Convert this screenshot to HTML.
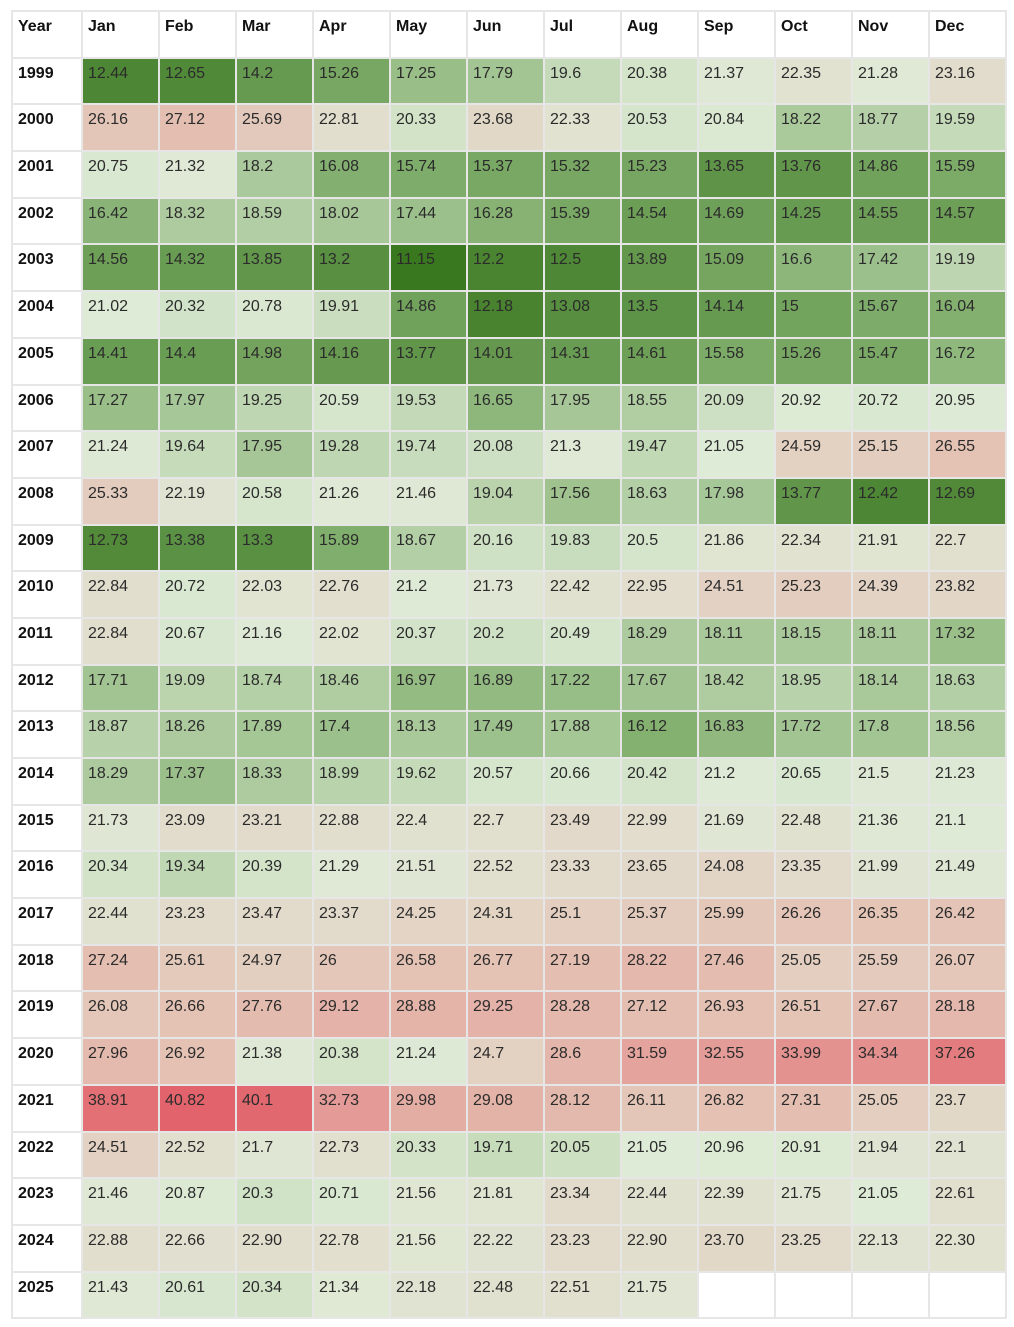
<!DOCTYPE html>
<html><head><meta charset="utf-8">
<style>
body{margin:0;background:#fff;font-family:"Liberation Sans",Arial,sans-serif;}
table{position:absolute;left:11px;top:10px;border-collapse:collapse;table-layout:fixed;border:2px solid #e0e0e0;}
tr{height:46.7px;}
td,th{border:2px solid #e6e6e6;padding:0 0 0 5px;vertical-align:top;font-size:16px;color:#222;text-align:left;}
td{padding-top:6px;font-weight:normal;color:#2b2b2b;}
th{padding-top:6px;font-weight:bold;color:#111;}
col.y{width:70px} col.m{width:77px}
</style></head><body>
<table id="t">
<colgroup><col class="y"><col class="m"><col class="m"><col class="m"><col class="m"><col class="m"><col class="m"><col class="m"><col class="m"><col class="m"><col class="m"><col class="m"><col class="m"></colgroup>
<tbody id="tb"></tbody></table>
<script>
const months=["Jan","Feb","Mar","Apr","May","Jun","Jul","Aug","Sep","Oct","Nov","Dec"];
const years=[1999,2000,2001,2002,2003,2004,2005,2006,2007,2008,2009,2010,2011,2012,2013,2014,2015,2016,2017,2018,2019,2020,2021,2022,2023,2024,2025];
const values=[
["12.44","12.65","14.2","15.26","17.25","17.79","19.6","20.38","21.37","22.35","21.28","23.16"],
["26.16","27.12","25.69","22.81","20.33","23.68","22.33","20.53","20.84","18.22","18.77","19.59"],
["20.75","21.32","18.2","16.08","15.74","15.37","15.32","15.23","13.65","13.76","14.86","15.59"],
["16.42","18.32","18.59","18.02","17.44","16.28","15.39","14.54","14.69","14.25","14.55","14.57"],
["14.56","14.32","13.85","13.2","11.15","12.2","12.5","13.89","15.09","16.6","17.42","19.19"],
["21.02","20.32","20.78","19.91","14.86","12.18","13.08","13.5","14.14","15","15.67","16.04"],
["14.41","14.4","14.98","14.16","13.77","14.01","14.31","14.61","15.58","15.26","15.47","16.72"],
["17.27","17.97","19.25","20.59","19.53","16.65","17.95","18.55","20.09","20.92","20.72","20.95"],
["21.24","19.64","17.95","19.28","19.74","20.08","21.3","19.47","21.05","24.59","25.15","26.55"],
["25.33","22.19","20.58","21.26","21.46","19.04","17.56","18.63","17.98","13.77","12.42","12.69"],
["12.73","13.38","13.3","15.89","18.67","20.16","19.83","20.5","21.86","22.34","21.91","22.7"],
["22.84","20.72","22.03","22.76","21.2","21.73","22.42","22.95","24.51","25.23","24.39","23.82"],
["22.84","20.67","21.16","22.02","20.37","20.2","20.49","18.29","18.11","18.15","18.11","17.32"],
["17.71","19.09","18.74","18.46","16.97","16.89","17.22","17.67","18.42","18.95","18.14","18.63"],
["18.87","18.26","17.89","17.4","18.13","17.49","17.88","16.12","16.83","17.72","17.8","18.56"],
["18.29","17.37","18.33","18.99","19.62","20.57","20.66","20.42","21.2","20.65","21.5","21.23"],
["21.73","23.09","23.21","22.88","22.4","22.7","23.49","22.99","21.69","22.48","21.36","21.1"],
["20.34","19.34","20.39","21.29","21.51","22.52","23.33","23.65","24.08","23.35","21.99","21.49"],
["22.44","23.23","23.47","23.37","24.25","24.31","25.1","25.37","25.99","26.26","26.35","26.42"],
["27.24","25.61","24.97","26","26.58","26.77","27.19","28.22","27.46","25.05","25.59","26.07"],
["26.08","26.66","27.76","29.12","28.88","29.25","28.28","27.12","26.93","26.51","27.67","28.18"],
["27.96","26.92","21.38","20.38","21.24","24.7","28.6","31.59","32.55","33.99","34.34","37.26"],
["38.91","40.82","40.1","32.73","29.98","29.08","28.12","26.11","26.82","27.31","25.05","23.7"],
["24.51","22.52","21.7","22.73","20.33","19.71","20.05","21.05","20.96","20.91","21.94","22.1"],
["21.46","20.87","20.3","20.71","21.56","21.81","23.34","22.44","22.39","21.75","21.05","22.61"],
["22.88","22.66","22.90","22.78","21.56","22.22","23.23","22.90","23.70","23.25","22.13","22.30"],
["21.43","20.61","20.34","21.34","22.18","22.48","22.51","21.75","","","",""]
];
const stopVals=[11,16,21,23,27,32,41];
const stopCols=[[56,118,29],[130,175,110],[222,235,214],[226,221,205],[228,192,178],[228,160,155],[226,98,106]];
function colorFor(v){
  if(v<=stopVals[0])return stopCols[0];
  for(let i=1;i<stopVals.length;i++){
    if(v<=stopVals[i]){const t=(v-stopVals[i-1])/(stopVals[i]-stopVals[i-1]);
      return stopCols[i].map((c,k)=>Math.round(stopCols[i-1][k]+(c-stopCols[i-1][k])*t));}
  }
  return stopCols[stopCols.length-1];
}
const tb=document.getElementById('tb');
const hr=document.createElement('tr');


const yh=document.createElement('th');yh.textContent='Year';


hr.appendChild(yh);
months.forEach(m=>{const th=document.createElement('th');th.textContent=m;


hr.appendChild(th);});
tb.appendChild(hr);
years.forEach((y,i)=>{
  const tr=document.createElement('tr');
  
  
  const th=document.createElement('th');th.textContent=y;
  
  
  tr.appendChild(th);
  values[i].forEach((v,j)=>{
    const td=document.createElement('td');
    
    
    if(v!==''){td.textContent=v;const c=colorFor(parseFloat(v));td.style.background='rgb('+c.join(',')+')';}
    tr.appendChild(td);
  });
  tb.appendChild(tr);
});
</script>
</body></html>
